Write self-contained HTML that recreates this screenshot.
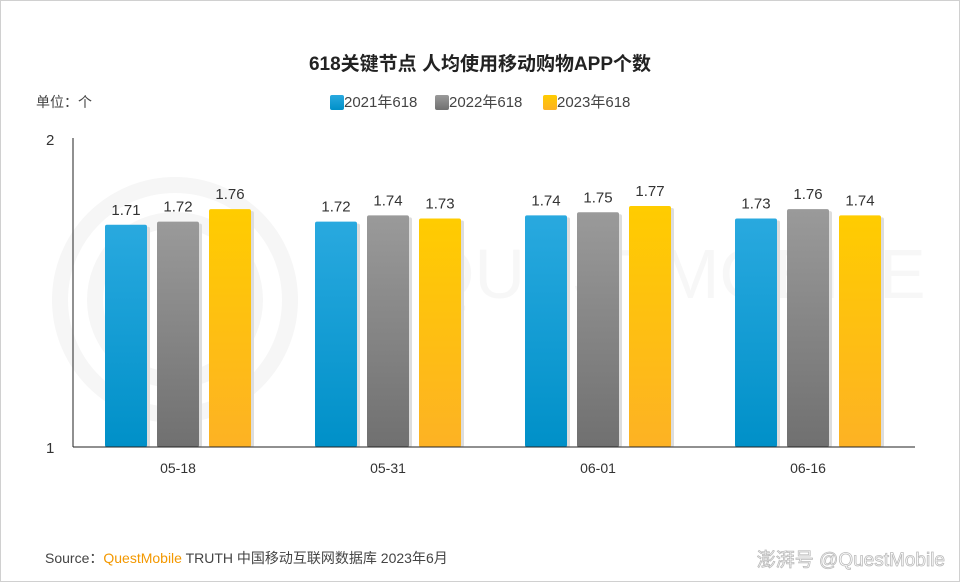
<!DOCTYPE html>
<html><head><meta charset="utf-8"><style>
html,body{margin:0;padding:0;background:#fff}
body{width:960px;height:582px;overflow:hidden;font-family:"Liberation Sans","Noto Sans CJK SC",sans-serif}
.frame{position:absolute;left:0;top:0;width:958px;height:580px;border:1px solid #d0d0d0}
</style></head><body>
<div class="frame"></div>
<svg id="chart" width="960" height="582" style="position:absolute;left:0;top:0">
<defs>
<linearGradient id="gb" x1="0" y1="0" x2="0" y2="1"><stop offset="0" stop-color="#29a9df"/><stop offset="1" stop-color="#0090c8"/></linearGradient>
<linearGradient id="gg" x1="0" y1="0" x2="0" y2="1"><stop offset="0" stop-color="#9a9a9a"/><stop offset="1" stop-color="#707070"/></linearGradient>
<linearGradient id="gy" x1="0" y1="0" x2="0" y2="1"><stop offset="0" stop-color="#ffcc00"/><stop offset="1" stop-color="#fdb224"/></linearGradient>
</defs>
<g fill="none" stroke="#f6f6f6" stroke-width="16">
<circle cx="175" cy="300" r="115"/><circle cx="175" cy="300" r="80"/>
<text x="420" y="298" font-size="70" fill="#f7f7f7" stroke="none" font-family="Liberation Sans">QUESTMOBILE</text>
</g>
<text x="480" y="70" text-anchor="middle" font-size="19" font-weight="bold" fill="#222">618关键节点 人均使用移动购物APP个数</text>
<text x="36" y="107" font-size="14" fill="#444">单位：个</text>
<g id="legend"></g>
<g id="bars"></g>
<line x1="73" y1="138" x2="73" y2="447" stroke="#222" stroke-width="1"/>
<line x1="73" y1="447" x2="915" y2="447" stroke="#222" stroke-width="1"/>
<text x="46" y="145" font-size="15" fill="#333">2</text>
<text x="46" y="453" font-size="15" fill="#333">1</text>
<text x="45" y="563" font-size="14" fill="#444">Source：<tspan fill="#f39800">QuestMobile</tspan> TRUTH 中国移动互联网数据库 2023年6月</text>
<text x="945" y="566" text-anchor="end" font-size="19" fill="#fff" stroke="#bbb" stroke-width="0.8">澎湃号 @QuestMobile</text>
</svg>
<script>
const categories=["05-18","05-31","06-01","06-16"];
const seriesNames=["2021年618","2022年618","2023年618"];
const s2021=[1.71,1.72,1.74,1.73];
const s2022=[1.72,1.74,1.75,1.76];
const s2023=[1.76,1.73,1.77,1.74];
const series=[s2021,s2022,s2023];
const fills=["url(#gb)","url(#gg)","url(#gy)"];
const NS="http://www.w3.org/2000/svg";
const x0=73,groupW=210,yMin=1,yMax=2,yB=447,yT=134;
const yS=v=>yB-(v-yMin)/(yMax-yMin)*(yB-yT);
const xC=i=>x0+groupW*i+groupW/2;
const bars=document.getElementById('bars');
function mk(t,a,p){const e=document.createElementNS(NS,t);for(const k in a)e.setAttribute(k,a[k]);p.appendChild(e);return e;}
categories.forEach((c,i)=>{
 series.forEach((s,j)=>{
  const cx=xC(i)+(j-1)*52, y=yS(s[i]);
  const sh=mk('rect',{x:cx-21+3,y:y+2,width:42,height:yB-y-2,fill:'#ddd',rx:2},bars);
  
  
  const r=mk('rect',{x:cx-21,y:y,width:42,height:yB-y,fill:fills[j],rx:2},bars);
  
  
  const t=mk('text',{x:cx,y:y-10,'text-anchor':'middle','font-size':15,fill:'#333'},bars);
  t.textContent=s[i].toFixed(2);
  
  
 });
 const l=mk('text',{x:xC(i),y:473,'text-anchor':'middle','font-size':14,fill:'#333'},bars);
 l.textContent=c;
 
 
});
const lg=document.getElementById('legend');
seriesNames.forEach((n,j)=>{
 const x=[330,435,543][j];
 const r=mk('rect',{x:x,y:95,width:14,height:15,rx:2,fill:fills[j]},lg);
 
 
 const t=mk('text',{x:x+14,y:107,'font-size':15,fill:'#444'},lg);
 t.textContent=n;
 
 
});
</script>
</body></html>
